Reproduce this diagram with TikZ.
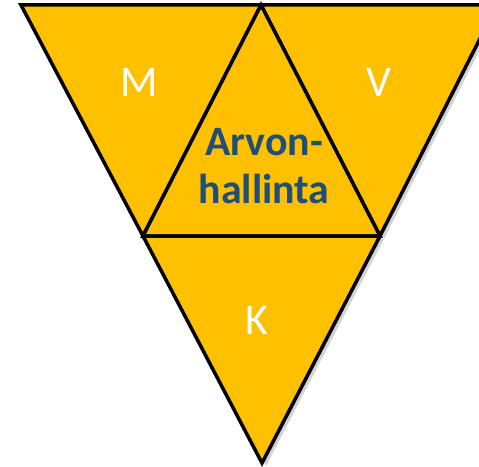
\documentclass[tikz,border=0pt]{standalone}
\usepackage{fontspec}
\setmainfont{Carlito}
\usetikzlibrary{shadows}
\definecolor{PyramidGold}{HTML}{FFC000}
\definecolor{LabelBlue}{HTML}{1F4E79}

\begin{document}
\begin{tikzpicture}[x=1bp, y=-1bp,
    part/.style={fill=PyramidGold, draw=black, line width=3.5bp, line join=miter},
    shade/.style={drop shadow={opacity=0.35, shadow xshift=4bp, shadow yshift=-3bp}},
    letter/.style={text=white, font=\fontsize{44}{50}\selectfont, inner sep=0pt}]
        \useasboundingbox (0,0) rectangle (479,467);
        \clip (0,0) rectangle (479,467);
        \coordinate (tl) at (21,5);
        \coordinate (tm) at (261,5);
        \coordinate (tr) at (497,5);
        \coordinate (ml) at (143,236);
        \coordinate (mr) at (380,236);
        \coordinate (bt) at (262,463);
        \draw[part] (tl) -- (tm) -- (ml) -- cycle;
        \draw[part, shade] (tm) -- (tr) -- (mr) -- cycle;
        \draw[part] (tm) -- (mr) -- (ml) -- cycle;
        \draw[part, shade] (ml) -- (mr) -- (bt) -- cycle;
        \node[letter] (m) at (139,82) {M};
        \node[letter] (v) at (379,82) {V};
        \node[letter] (k) at (257,320) {K};
        \node[text=LabelBlue, font=\bfseries\fontsize{42}{49}\selectfont, align=center, inner sep=0pt] (arvo) at (264,166) {Arvon-\\hallinta};
      \end{tikzpicture}
\end{document}
